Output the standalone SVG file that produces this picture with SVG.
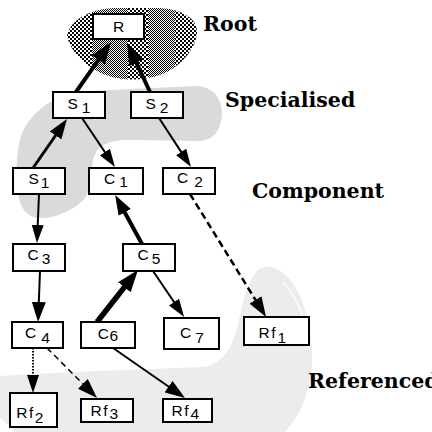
<svg xmlns="http://www.w3.org/2000/svg" width="432" height="432" viewBox="0 0 432 432">
  <style>
    .box { fill: #ffffff; stroke: #000000; stroke-width: 2; }
    .lbl { font-family: "Liberation Sans", Arial, sans-serif; font-size: 15.5px; fill: #000; text-anchor: middle; }
    .rf { letter-spacing: 1.5px; }
    .tier { font-family: "DejaVu Serif", "Liberation Serif", serif; font-weight: bold; font-size: 20.5px; fill: #000; }
    .edge { fill: none; stroke: #000; stroke-linecap: butt; }
  </style>
  <defs>
    <!-- coarse 2px checker -->
    <pattern id="checkCoarse" width="4" height="4" patternUnits="userSpaceOnUse">
      <rect width="4" height="4" fill="#fff"/>
      <rect x="0" y="0" width="2" height="2" fill="#000"/>
      <rect x="2" y="2" width="2" height="2" fill="#000"/>
    </pattern>
    <!-- fine 1px checker -->
    <pattern id="checkFine" width="2" height="2" patternUnits="userSpaceOnUse">
      <rect width="2" height="2" fill="#fff"/>
      <rect x="0" y="0" width="1" height="1" fill="#000"/>
      <rect x="1" y="1" width="1" height="1" fill="#000"/>
    </pattern>
    <clipPath id="rootClip">
      <path d="M67,36 C70,20 90,9 115,8 L160,8 C185,10 198,20 197,33 C195,52 178,68 160,75 C140,82 115,81 97,71 C82,63 70,50 67,36 Z"/>
    </clipPath>
    <marker id="headS" viewBox="0 0 18 12" refX="3" refY="6" markerWidth="18" markerHeight="12" markerUnits="userSpaceOnUse" orient="auto">
      <path d="M0,0 L18,6 L0,12 Z" fill="#000"/>
    </marker>
    <marker id="headM" viewBox="0 0 20 14" refX="3" refY="7" markerWidth="20" markerHeight="14" markerUnits="userSpaceOnUse" orient="auto">
      <path d="M0,0 L20,7 L0,14 Z" fill="#000"/>
    </marker>
    <marker id="headL" viewBox="0 0 22 16" refX="3" refY="8" markerWidth="22" markerHeight="16" markerUnits="userSpaceOnUse" orient="auto">
      <path d="M0,0 L22,8 L0,16 Z" fill="#000"/>
    </marker>
  </defs>

  <rect width="432" height="432" fill="#fff"/>

  <!-- tier regions -->
  <g id="regions">
    <g id="region-root" clip-path="url(#rootClip)">
      <rect x="60" y="0" width="32" height="90" fill="url(#checkCoarse)"/>
      <rect x="92" y="0" width="36" height="90" fill="url(#checkFine)"/>
      <rect x="128" y="0" width="20" height="90" fill="url(#checkCoarse)"/>
      <rect x="148" y="0" width="27" height="90" fill="url(#checkFine)"/>
      <rect x="175" y="0" width="30" height="90" fill="url(#checkCoarse)"/>
    </g>
    <path id="region-specialised" fill="#dadada" d="M37,218 C25,216 18,205 17,185 C16,160 17,135 30,120 C42,104 60,94 90,91 L195,86 C212,86 222,98 222,112 C222,128 215,140 200,141 L130,140 C108,140 97,145 93,160 C90,175 90,192 85,198 C75,210 55,219 37,218 Z"/>
    <path id="region-referenced" fill="#ececec" d="M0,376 C60,372 150,369 205,367 C225,362 233,345 238,325 C243,300 248,280 258,270 C270,260 287,272 297,290 C308,310 313,340 312,365 C310,395 298,418 285,432 L15,432 L0,418 Z"/>
    <path fill="none" stroke="#fff" stroke-width="1.2" d="M283,282 C296,296 306,318 309,348"/>
  </g>

  <!-- tier labels -->
  <g id="tier-labels">
    <text class="tier" x="203" y="31">Root</text>
    <text class="tier" x="225" y="107">Specialised</text>
    <text class="tier" x="252" y="198">Component</text>
    <text class="tier" x="308" y="388">Referenced</text>
  </g>

  <!-- connectors -->
  <g id="connectors">
    <line class="edge" x1="76" y1="92" x2="100.1" y2="57.6" stroke-width="4" marker-end="url(#headL)"/>
    <line class="edge" x1="150" y1="92" x2="135.1" y2="60.2" stroke-width="4" marker-end="url(#headL)"/>
    <line class="edge" x1="33" y1="168" x2="57.3" y2="133" stroke-width="3" marker-end="url(#headM)"/>
    <line class="edge" x1="82" y1="118" x2="106.6" y2="154.6" stroke-width="2" marker-end="url(#headS)"/>
    <line class="edge" x1="159" y1="118" x2="182.8" y2="154.4" stroke-width="2" marker-end="url(#headS)"/>
    <line class="edge" x1="39" y1="194" x2="37.6" y2="228" stroke-width="2" marker-end="url(#headS)"/>
    <line class="edge" x1="142" y1="244" x2="123.3" y2="209.8" stroke-width="4" marker-end="url(#headM)"/>
    <line class="edge" x1="190" y1="194" x2="257.1" y2="302.5" stroke-width="2.5" stroke-dasharray="7 4" marker-end="url(#headM)"/>
    <line class="edge" x1="40" y1="271" x2="38.7" y2="305" stroke-width="2" marker-end="url(#headM)"/>
    <line class="edge" x1="97" y1="322" x2="126.2" y2="284.9" stroke-width="5.5" marker-end="url(#headL)"/>
    <line class="edge" x1="153" y1="271" x2="175.7" y2="304.5" stroke-width="2" marker-end="url(#headS)"/>
    <line class="edge" x1="33" y1="348" x2="33" y2="378" stroke-width="2" stroke-dasharray="1.5 1.5" marker-end="url(#headS)"/>
    <line class="edge" x1="47" y1="348" x2="85" y2="386" stroke-width="1.5" stroke-dasharray="6 4" marker-end="url(#headM)"/>
    <line class="edge" x1="113" y1="348" x2="171" y2="388.3" stroke-width="2" marker-end="url(#headM)"/>
  </g>

  <!-- nodes -->
  <g id="node-R">
    <rect class="box" x="93" y="14" width="51" height="25"/>
    <text class="lbl" x="118.5" y="32">R</text>
  </g>
  <g id="node-S1-top">
    <rect class="box" x="53" y="92" width="52" height="26"/>
    <text class="lbl" x="79" y="109">S<tspan dx="4" dy="4">1</tspan></text>
  </g>
  <g id="node-S2">
    <rect class="box" x="131" y="92" width="52" height="26"/>
    <text class="lbl" x="157" y="109">S<tspan dx="4" dy="4">2</tspan></text>
  </g>
  <g id="node-S1">
    <rect class="box" x="13" y="168" width="52" height="26"/>
    <text class="lbl" x="39" y="184">S<tspan dx="2" dy="4">1</tspan></text>
  </g>
  <g id="node-C1">
    <rect class="box" x="89" y="168" width="54" height="26"/>
    <text class="lbl" x="116" y="184">C<tspan dx="4" dy="3">1</tspan></text>
  </g>
  <g id="node-C2">
    <rect class="box" x="163" y="168" width="52" height="26"/>
    <text class="lbl" x="190" y="183">C<tspan dx="6" dy="4">2</tspan></text>
  </g>
  <g id="node-C3">
    <rect class="box" x="13" y="244" width="52" height="27"/>
    <text class="lbl" x="39" y="260">C<tspan dx="3" dy="4">3</tspan></text>
  </g>
  <g id="node-C5">
    <rect class="box" x="123" y="244" width="52" height="27"/>
    <text class="lbl" x="149" y="260">C<tspan dx="3" dy="4">5</tspan></text>
  </g>
  <g id="node-C4">
    <rect class="box" x="12" y="322" width="51" height="26"/>
    <text class="lbl" x="37.5" y="338">C<tspan dx="5" dy="5">4</tspan></text>
  </g>
  <g id="node-C6">
    <rect class="box" x="81" y="322" width="54" height="26"/>
    <text class="lbl" x="108" y="339">C<tspan dx="0.5" dy="2">6</tspan></text>
  </g>
  <g id="node-C7">
    <rect class="box" x="164" y="318" width="55" height="31"/>
    <text class="lbl" x="192" y="338">C<tspan dx="4" dy="5">7</tspan></text>
  </g>
  <g id="node-Rf1">
    <rect class="box" x="244" y="317" width="65" height="28"/>
    <text class="lbl rf" x="273" y="338">Rf<tspan dx="0.5" dy="5">1</tspan></text>
  </g>
  <g id="node-Rf2">
    <rect class="box" x="10" y="393" width="47" height="34"/>
    <text class="lbl rf" x="30.5" y="418">Rf<tspan dx="0" dy="5">2</tspan></text>
  </g>
  <g id="node-Rf3">
    <rect class="box" x="81" y="399" width="52" height="23"/>
    <text class="lbl rf" x="105" y="416">Rf<tspan dx="0.5" dy="3">3</tspan></text>
  </g>
  <g id="node-Rf4">
    <rect class="box" x="163" y="399" width="49" height="23"/>
    <text class="lbl rf" x="186" y="416">Rf<tspan dx="0.5" dy="3">4</tspan></text>
  </g>
</svg>
